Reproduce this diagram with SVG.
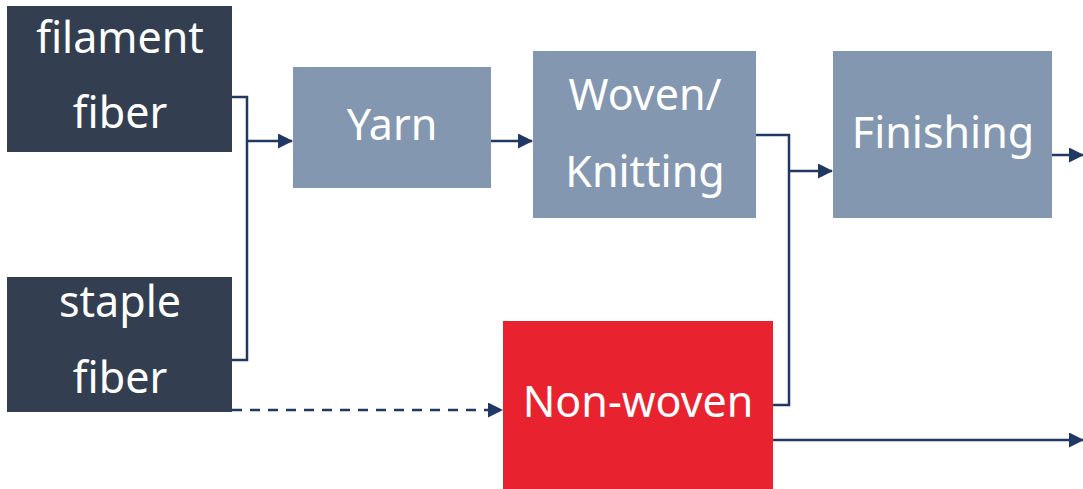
<svg xmlns="http://www.w3.org/2000/svg" width="1083" height="489" viewBox="0 0 1083 489">
<defs>
<style>
.dark{fill:#333f50}
.blue{fill:#8497b0}
.red{fill:#e8232f}
text{font-family:"Noto Sans","DejaVu Sans",sans-serif;font-size:43px;fill:#ffffff;text-anchor:middle}
.ln{fill:none;stroke:#1f3864;stroke-width:2.5}
.dash{stroke-dasharray:10 8}
</style>
<marker id="arrL" markerWidth="15" markerHeight="15" refX="14" refY="7.5" orient="auto" markerUnits="userSpaceOnUse" viewBox="0 0 15 15">
<path d="M0,0 L15,7.5 L0,15 Z" fill="#1f3864"/>
</marker>
</defs>
<rect width="1083" height="489" fill="#ffffff"/>
<g id="connectors">
<path class="ln" d="M232,97 H247 V360 H232"/>
<path class="ln" d="M247,141 H292" marker-end="url(#arrL)"/>
<path class="ln" d="M489,141 H532" marker-end="url(#arrL)"/>
<path class="ln" d="M756,135 H789 V405 H773"/>
<path class="ln" d="M789,171 H832" marker-end="url(#arrL)"/>
<path class="ln" d="M1052,155 H1083" marker-end="url(#arrL)"/>
<path class="ln" d="M773,440 H1083" marker-end="url(#arrL)"/>
<path class="ln dash" d="M232,410 H502" marker-end="url(#arrL)"/>
</g>
<g id="filament">
<rect class="dark" x="7" y="6" width="225" height="146"/>
<text x="120" y="53">filament</text>
<text x="120" y="128">fiber</text>
</g>
<g id="staple">
<rect class="dark" x="7" y="277" width="225" height="135"/>
<text x="120" y="317">staple</text>
<text x="120" y="393">fiber</text>
</g>
<g id="yarn">
<rect class="blue" x="293" y="67" width="198" height="121"/>
<text x="392" y="140">Yarn</text>
</g>
<g id="woven">
<rect class="blue" x="533" y="51" width="223" height="167"/>
<text x="645" y="110">Woven/</text>
<text x="645" y="187">Knitting</text>
</g>
<g id="finishing">
<rect class="blue" x="833" y="51" width="219" height="167"/>
<text x="943" y="148">Finishing</text>
</g>
<g id="nonwoven">
<rect class="red" x="503" y="321" width="270" height="168"/>
<text x="638" y="417">Non-woven</text>
</g>
</svg>
